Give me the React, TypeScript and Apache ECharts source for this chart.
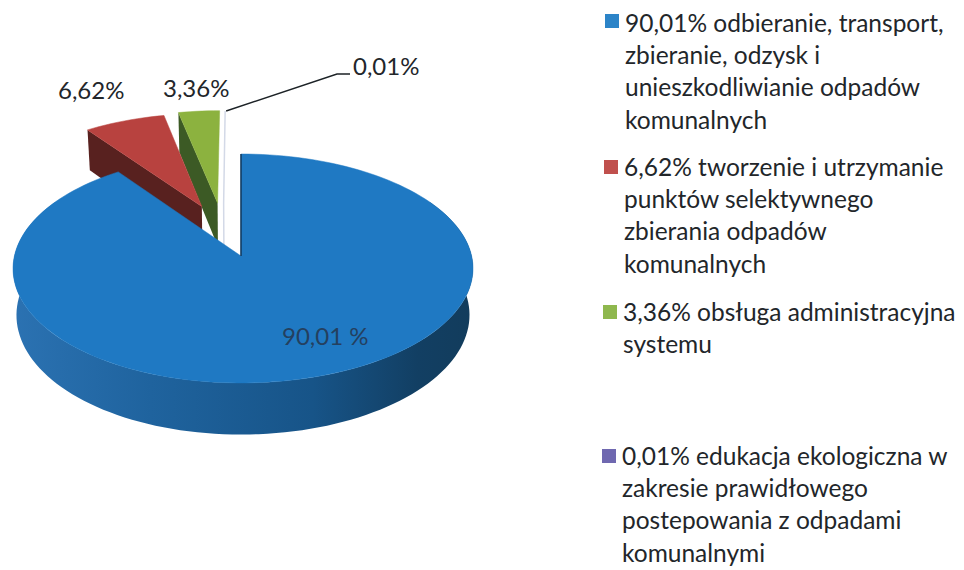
import React, { useEffect, useRef } from "react";
import * as echarts from "echarts";

const sliceNames = [
  "odbieranie, transport, zbieranie, odzysk i unieszkodliwianie odpadów komunalnych",
  "tworzenie i utrzymanie punktów selektywnego zbierania odpadów komunalnych",
  "obsługa administracyjna systemu",
  "edukacja ekologiczna w zakresie prawidłowego postepowania z odpadami komunalnymi",
];
const sliceValues = [90.01, 6.62, 3.36, 0.01];
const sliceLabels = ["90,01 %", "6,62%", "3,36%", "0,01%"];
const legendLines = [
  "90,01% odbieranie, transport,\nzbieranie, odzysk i\nunieszkodliwianie odpadów\nkomunalnych",
  "6,62% tworzenie i utrzymanie\npunktów selektywnego\nzbierania odpadów\nkomunalnych",
  "3,36% obsługa administracyjna\nsystemu",
  "0,01% edukacja ekologiczna w\nzakresie prawidłowego\npostepowania z odpadami\nkomunalnymi",
];

const FONT = "Lato";
const TOP = ["#1f79c3", "#b8423f", "#8cb23f", "#d3d9e7"];
const WALL = ["#1a5a94", "#58211f", "#3c5a25", "#d3d9e7"];
const LEGEND = ["#2c84c8", "#c0504d", "#8fb84e", "#6f68b0"];
const EXPLODE = [
  [0, 0],
  [-0.18, 0.46],
  [-0.108, 0.494],
  [-0.08, 0.49],
];
const Z = [40, 30, 20, 10];

const CX = 241, CY = 256, RX = 228.6, RY = 113.1, K = 0.109, DEPTH = 46;

function project(u: number, v: number, depth: number): number[] {
  const s = 1 / (1 + K * v);
  const rx = RX * (1 - (0.015 * depth) / DEPTH);
  return [CX + rx * u * s, CY - RY * v * s + depth * s];
}

function rimPoint(deg: number, ex: number[], depth: number): number[] {
  const a = (deg * Math.PI) / 180;
  const sn = Math.sin(a);
  return project(sn + 0.0088 * sn * sn + ex[0], Math.cos(a) + ex[1], depth);
}

function arc(from: number, to: number, ex: number[], depth: number): number[][] {
  const n = Math.max(2, Math.ceil(Math.abs(to - from) / 2));
  const pts: number[][] = [];
  for (let i = 0; i <= n; i++) pts.push(rimPoint(from + ((to - from) * i) / n, ex, depth));
  return pts;
}

function renderSlice(params: any, api: any) {
  const i = params.dataIndex;
  const total = sliceValues.reduce((a, b) => a + b, 0);
  const before = sliceValues.slice(0, i).reduce((a, b) => a + b, 0);
  const start = (before / total) * 360;
  const end = start + (api.value(0) / total) * 360;
  const ex = EXPLODE[i];
  const apex = project(ex[0], ex[1], 0);
  const apexLow = project(ex[0], ex[1], DEPTH);
  const z2 = Z[i];
  const children: any[] = [];

  if (i === 0) {
    children.push({
      type: "polygon",
      z2,
      shape: { points: [...arc(60, 300, ex, 0), ...arc(300, 60, ex, DEPTH)] },
      style: {
        fill: {
          type: "linear", x: 0, y: 0, x2: 1, y2: 0,
          colorStops: [
            { offset: 0, color: "#2b72b2" },
            { offset: 0.3, color: "#1f639e" },
            { offset: 0.65, color: "#175488" },
            { offset: 0.88, color: "#123f63" },
            { offset: 1, color: "#123c5c" },
          ],
        },
      },
    });
  } else if (i < 3) {
    const c = rimPoint(start, ex, 0);
    const cLow = rimPoint(start, ex, DEPTH);
    children.push({
      type: "polygon",
      z2,
      shape: { points: [c, apex, apexLow, cLow] },
      style: { fill: WALL[i] },
    });
  }

  if (i === 3) {
    const a = rimPoint(start, ex, 0);
    children.push({
      type: "polyline",
      z2,
      shape: { points: [a, apex, apexLow] },
      style: { stroke: TOP[i], lineWidth: 1.5, fill: "none" },
    });
    children.push({
      type: "polyline",
      z2: 50,
      shape: { points: [[a[0] + 1, a[1]], [337, 74], [350, 74]] },
      style: { stroke: "#1c2226", lineWidth: 1.4, fill: "none" },
    });
  } else {
    children.push({
      type: "polygon",
      z2: z2 + 1,
      shape: { points: [apex, ...arc(start, end, ex, 0)] },
      style: { fill: TOP[i], stroke: TOP[i], lineWidth: 0.5 },
    });
  }
  if (i === 0) {
    const top = rimPoint(0, ex, 0);
    children.push({
      type: "line",
      z2: z2 + 2,
      shape: { x1: top[0], y1: top[1], x2: apex[0], y2: apex[1] },
      style: { stroke: "#12395c", lineWidth: 1.5 },
    });
  }
  return { type: "group", children };
}

function textEl(text: string, x: number, y: number, size: number, fill: string, lineHeight: number) {
  return {
    type: "text",
    x,
    y,
    z: 10,
    style: { text, fill, font: `${size}px ${FONT}`, lineHeight, textAlign: "left", textVerticalAlign: "top" },
  };
}

export default function App() {
  const ref = useRef<HTMLDivElement>(null);
  useEffect(() => {
    document.body.style.margin = "0";
    const chart = echarts.init(ref.current!, null, { renderer: "svg" });
    const legendX = [625, 624, 623, 622];
    const legendY = [6, 150, 295, 439];
    const swatchX = [605, 604, 603, 602];
    const swatchY = [14, 160, 305, 449];
    const graphics: any[] = [];
    legendLines.forEach((t, i) => {
      graphics.push({
        type: "rect",
        shape: { x: swatchX[i], y: swatchY[i], width: 14, height: 14 },
        style: { fill: LEGEND[i] },
      });
      graphics.push(textEl(t, legendX[i], legendY[i], 24.5, "#22262a", 32.3));
    });
    graphics.push(textEl(sliceLabels[0], 282, 321, 24, "#24405f", 28));
    graphics.push(textEl(sliceLabels[1], 58, 75, 24, "#22262a", 28));
    graphics.push(textEl(sliceLabels[2], 163, 73, 24, "#22262a", 28));
    graphics.push(textEl(sliceLabels[3], 353, 51, 24, "#22262a", 28));
    chart.setOption({
      animation: false,
      backgroundColor: "#ffffff",
      graphic: graphics,
      series: [
        {
          type: "custom",
          coordinateSystem: "none",
          renderItem: renderSlice,
          data: sliceValues.map((value, i) => ({ value: [value], name: sliceNames[i] })),
          silent: true,
        },
      ],
    });
    return () => chart.dispose();
  }, []);
  return <div ref={ref} style={{ position: "absolute", left: 0, top: 0, width: 964, height: 570 }} />;
}
